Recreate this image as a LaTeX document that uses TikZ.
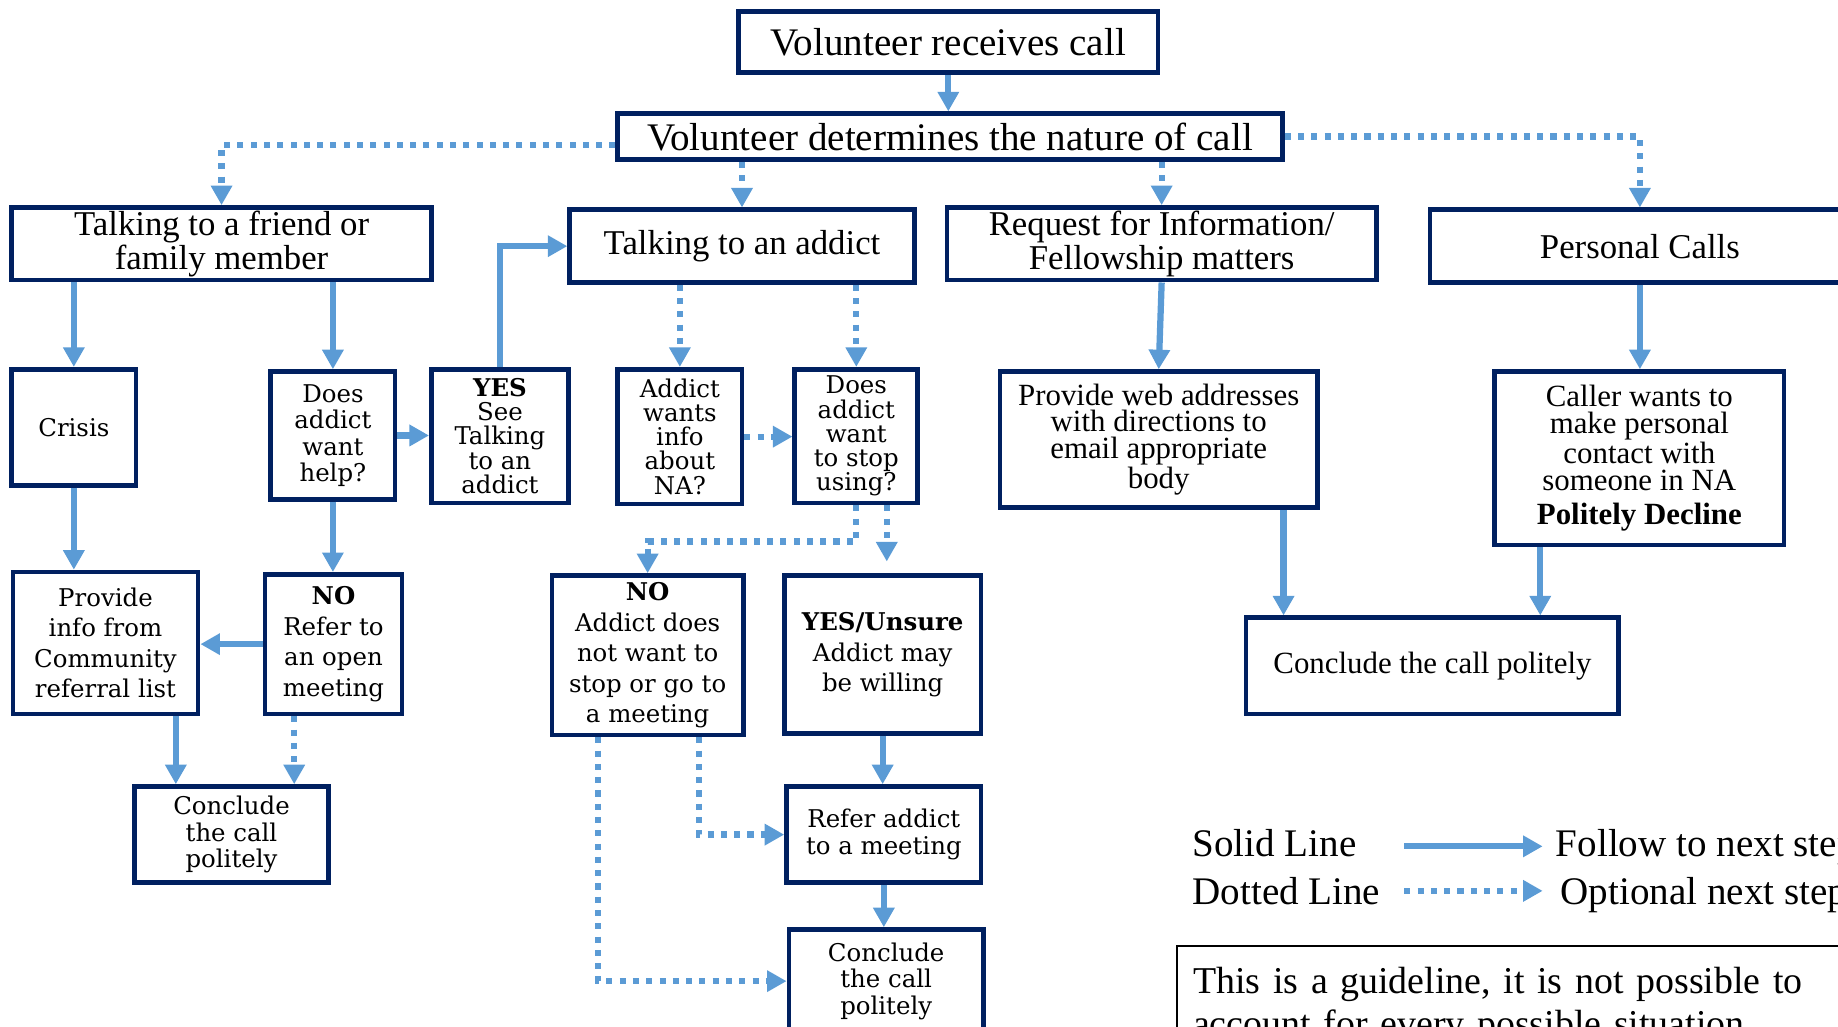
\documentclass[tikz,border=0pt]{standalone}
\usepackage{fontspec}
\setmainfont{Liberation Serif}
\newfontfamily\schoolfont{DejaVu Serif}
\usetikzlibrary{arrows.meta, calc}
\definecolor{boxNavy}{RGB}{0,32,96}
\definecolor{arrowBlue}{RGB}{91,155,213}

\begin{document}
\begin{tikzpicture}[
  x=0.6pt, y=-0.6pt,
  box/.style={draw=boxNavy, line width=2.4pt, fill=white, align=center, inner sep=0pt},
  wh/.style 2 args={minimum width=#1*0.6pt, minimum height=#2*0.6pt},
  headline/.style={font=\fontsize{20}{22}\selectfont},
  category/.style={font=\fontsize{17.8}{15}\selectfont},
  detail/.style={font=\fontsize{15.8}{13.8}\selectfont},
  schoolTight/.style={font=\schoolfont\fontsize{12.5}{12.4}\selectfont},
  schoolMid/.style={font=\schoolfont\fontsize{12.5}{13.5}\selectfont},
  schoolLoose/.style={font=\schoolfont\fontsize{12.5}{15.6}\selectfont},
  flow/.style={-{Triangle[length=10pt, width=10.5pt]}, line width=3.2pt, draw=arrowBlue},
  opt/.style={flow, dash pattern=on 3.1pt off 3.7pt},
  legtxt/.style={font=\fontsize{20}{22}\selectfont, anchor=base west, inner sep=0pt},
  guide/.style={draw=black, line width=1pt, align=left, text width=408pt,
                inner xsep=8.4pt, inner ysep=10.8pt, font=\fontsize{19.4}{22}\selectfont}
]
\path[use as bounding box] (0,0) rectangle (1568,876);
\clip (0,0) rectangle (1568,876);

% top of the chart
\node[box, headline, wh={358}{52}] (receive) at (809,36) {Volunteer receives call};
\node[box, headline, wh={567}{39}] (determine) at (810.5,116.5) {Volunteer determines the nature of call};
\node[box, category, wh={358}{62}] (friend) at (189,208) {Talking to a friend or\\family member};
\node[box, category, wh={294}{62}] (addict) at (633,210) {Talking to an addict};
\node[box, category, wh={366}{62}] (request) at (991,208) {Request for Information/\\Fellowship matters};
\node[box, category, wh={358}{62}] (personal) at (1399,210) {Personal Calls};

% second row
\node[box, schoolMid, wh={106}{99}] (crisis) at (63,364.5) {Crisis};
\node[box, schoolMid, wh={106}{109}] (wanthelp) at (284,371.5) {Does\\addict\\want\\help?};
\node[box, schoolTight, wh={117}{114}] (yessee) at (426.5,372) {\textbf{YES}\\See\\Talking\\to an\\addict};
\node[box, schoolTight, wh={106}{115}] (wantsinfo) at (580,372.5) {Addict\\wants\\info\\about\\NA?};
\node[box, schoolTight, wh={105}{114}] (stopusing) at (730.5,372) {Does\\addict\\want\\to stop\\using?};
\node[box, detail, wh={271}{116}] (webaddr) at (988.5,375) {Provide web addresses\\with directions to\\email appropriate\\body};
\node[box, detail, wh={247}{148}] (caller) at (1398.5,391) {Caller wants to\\make personal\\contact with\\someone in NA\\[3.4pt]\textbf{Politely Decline}};

% third row
\node[box, schoolLoose, wh={158}{121}] (community) at (90,548.5) {Provide\\info from\\Community\\referral list};
\node[box, schoolLoose, wh={117}{119}] (openmeet) at (284.5,549.5) {\textbf{NO}\\Refer to\\an open\\meeting};
\node[box, schoolLoose, wh={163}{136}] (notstop) at (552.5,559) {\textbf{NO}\\Addict does\\not want to\\stop or go to\\a meeting};
\node[box, schoolLoose, wh={168}{135}] (willing) at (753,558.5) {\textbf{YES/Unsure}\\Addict may\\be willing};
\node[box, detail, wh={318}{82}] (concludeR) at (1222,568) {Conclude the call politely};

% bottom row
\node[box, schoolMid, wh={165}{82}] (concludeL) at (197.5,712) {Conclude\\the call\\politely};
\node[box, schoolMid, wh={166}{82}] (referaddict) at (754,712) {Refer addict\\to a meeting};
\node[box, schoolMid, wh={166}{88}] (concludeM) at (756,837) {Conclude\\the call\\politely};

% legend
\node[legtxt] (solidtxt) at (1017,731) {Solid Line};
\node[legtxt] (followtxt) at (1327,731) {Follow to next step};
\node[legtxt] (dottedtxt) at (1017,772) {Dotted Line};
\node[legtxt] (optionaltxt) at (1331,772) {Optional next step};
\coordinate (solidA) at (1198,722);
\coordinate (solidB) at (1316,722);
\coordinate (dotA) at (1198,760);
\coordinate (dotB) at (1316,760);
\node[guide, anchor=north west] (guideline) at (1003,806)
  {This is a guideline, it is not possible to\\account for every possible situation};

% solid steps
\draw[flow] (receive.south) -- (receive.south |- determine.north);
\draw[flow] (crisis.north |- friend.south) -- (crisis.north);
\draw[flow] (wanthelp.north |- friend.south) -- (wanthelp.north);
\draw[flow] (crisis.south) -- (crisis.south |- community.north);
\draw[flow] (wanthelp.east) -- (wanthelp.east -| yessee.west);
\draw[flow] (wanthelp.south) -- (wanthelp.south |- openmeet.north);
\draw[flow] (openmeet.west) -- (openmeet.west -| community.east);
\draw[flow] ($(community.south east)+(-21,0)$) coordinate (c1) -- (c1 |- concludeL.north);
\draw[flow] (yessee.north) |- (addict.west);
\draw[flow] (willing.south) -- (willing.south |- referaddict.north);
\draw[flow] (referaddict.south) -- (referaddict.south |- concludeM.north);
\draw[flow] (request.south) -- (webaddr.north);
\draw[flow] ($(webaddr.south east)+(-31,0)$) coordinate (w1) -- (w1 |- concludeR.north);
\draw[flow] (personal.south) -- (personal.south |- caller.north);
\draw[flow] ($(caller.south west)+(41,0)$) coordinate (k1) -- (k1 |- concludeR.north);
\draw[flow] (solidA) -- (solidB);

% optional steps
\draw[opt] ($(determine.west)+(0,7.5)$) -| (friend.north);
\draw[opt] (addict.north |- determine.south) -- (addict.north);
\draw[opt] (request.north |- determine.south) -- (request.north);
\draw[opt] (determine.east) -| (personal.north);
\draw[opt] ($(openmeet.south west)+(27,0)$) coordinate (o1) -- (o1 |- concludeL.north);
\draw[opt] (wantsinfo.north |- addict.south) -- (wantsinfo.north);
\draw[opt] (stopusing.north |- addict.south) -- (stopusing.north);
\draw[opt] (wantsinfo.east) -- (wantsinfo.east -| stopusing.west);
\draw[opt] (stopusing.south) -- ++(0,31) -| (notstop.north);
\draw[opt] ($(stopusing.south)+(26,0)$) coordinate (u1) -- ($(u1 |- willing.north)+(0,-10)$);
\draw[opt] ($(notstop.south east)+(-40,0)$) |- (referaddict.west);
\draw[opt] ($(notstop.south west)+(41,0)$) |- (concludeM.west);
\draw[opt] (dotA) -- (dotB);
\end{tikzpicture}
\end{document}
